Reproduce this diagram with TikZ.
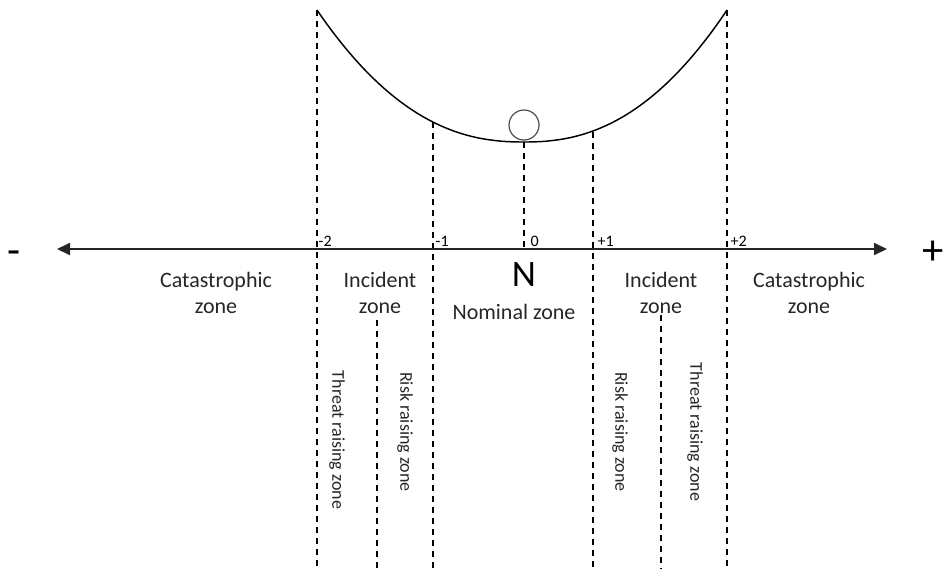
\documentclass[tikz,border=0pt]{standalone}
\usepackage{fontspec}
\setmainfont{Carlito}
\usetikzlibrary{arrows.meta}
\tikzset{x=0.75pt, y=-0.75pt, >={Triangle[length=9.75pt, width=9pt]}}

\begin{document}
\begin{tikzpicture}
% Style
[
    line cap=butt,
    axis line/.style={line width=1.4pt, black!85},
    bowl line/.style={line width=1.1pt},
    zone line/.style={line width=1.1pt, dash pattern=on 4.5pt off 3.75pt},
    zone text/.style={font=\fontsize{16.5}{19.5}\selectfont, align=center, text=black!85},
    raise text/.style={font=\fontsize{13.5}{16}\selectfont, rotate=-90, text=black!85},
    tick text/.style={font=\fontsize{12}{14}\selectfont, anchor=south west, inner sep=1pt},
    sign text/.style={font=\fontsize{32}{36}\selectfont, anchor=base},
    ball/.style={circle, draw=ball_color, line width=0.9pt, minimum size=22.5pt, inner sep=0pt}
]

% Define: Colors
\colorlet{ball_color}{black!70}

\useasboundingbox (0,0) rectangle (945,569);

%================================== Bowl ==================================
% Draw: Curve
\draw [bowl line] plot [domain=317:524, samples=60] ({\x}, {142-132*pow((524-\x)/207+0.00001,2.3)})
    -- plot [domain=524:727, samples=60] ({\x}, {142-132*pow((\x-524)/203+0.00001,2.3)});

% Draw: Ball
\node [ball] (ball) at (524,125) {};

%================================== Zones ==================================
% Draw: Borders
\foreach \name/\x/\top/\bot in {m2/317/10/569, m1/433/122/569, z0/524/142/249,
        p1/593/132/569, p2/727/10/569, lt/377/320/569, rt/661/315/569} {
    \draw [zone line] (\x,\top) coordinate (\name top) -- (\x,\bot) coordinate (\name bot);
}

% Draw: Axis
\coordinate (neg end) at (57,249);
\coordinate (pos end) at (887,249);
\draw [axis line, <->] (neg end) -- (pos end);
\node [sign text] (minus) at (14,264) {-};
\node [sign text] (plus) at (933,264) {+};

% Draw: Ticks
\foreach \x/\t/\s in {317/-2/0, 433/-1/1, 524/0/5, 593/+1/3, 727/+2/2} {
    \node [tick text, xshift=\s*0.75pt] (tick\x) at (\x,248) {\t};
}

% Draw: Labels
\node [zone text] (cat left) at (216,293) {Catastrophic\\zone};
\node [zone text] (inc left) at (380,293) {Incident\\zone};
\node [font=\fontsize{28}{30}\selectfont] (nom) at (524,275) {N};
\node [zone text] (nominal) at (514,312) {Nominal zone};
\node [zone text] (inc right) at (661,293) {Incident\\zone};
\node [zone text] (cat right) at (809,293) {Catastrophic\\zone};

\node [raise text] (thr left) at (337,440) {Threat raising zone};
\node [raise text] (risk left) at (405,432) {Risk raising zone};
\node [raise text] (risk right) at (620,432) {Risk raising zone};
\node [raise text] (thr right) at (695,432) {Threat raising zone};
\end{tikzpicture}
\end{document}
